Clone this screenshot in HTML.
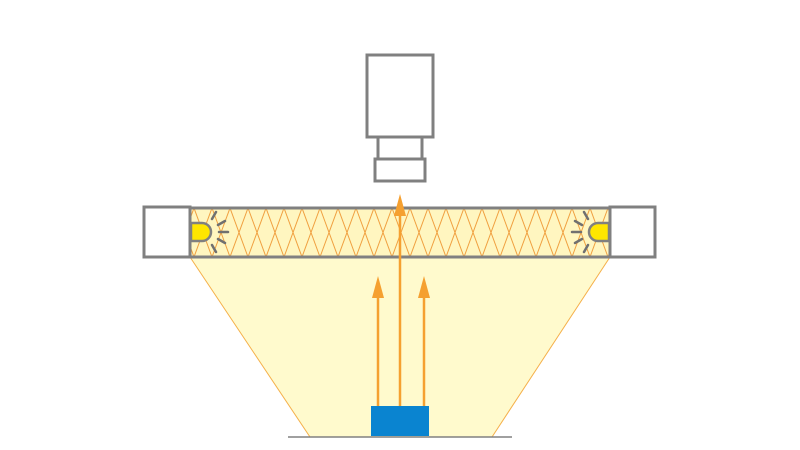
<!DOCTYPE html>
<html><head><meta charset="utf-8"><style>html,body{margin:0;padding:0;background:#fff}svg{display:block}</style></head>
<body>
<svg width="800" height="450" viewBox="0 0 800 450" xmlns="http://www.w3.org/2000/svg">
<defs>
<pattern id="zz" x="194" y="208" width="36" height="49" patternUnits="userSpaceOnUse">
<path d="M0 0L18 49L36 0M0 49L18 0L36 49" stroke="#f0a040" stroke-width="1" fill="none"/>
</pattern>
</defs>
<polygon points="190,257 610,257 492,437 310,437" fill="#fffacd" stroke="#f5b04a" stroke-width="1"/>
<rect x="190" y="208" width="420" height="49" fill="#fff6c0"/>
<rect x="190" y="208" width="420" height="49" fill="url(#zz)"/>
<line x1="190" y1="208" x2="610" y2="208" stroke="#808080" stroke-width="3"/>
<line x1="190" y1="257" x2="610" y2="257" stroke="#808080" stroke-width="3"/>
<rect x="144" y="207" width="46" height="50" fill="#fff" stroke="#808080" stroke-width="3"/>
<rect x="610" y="207" width="45" height="50" fill="#fff" stroke="#808080" stroke-width="3"/>
<path d="M191 223H202A9 9 0 0 1 202 241H191Z" fill="#ffe600" stroke="#808080" stroke-width="2.5"/>
<path d="M609 223H598A9 9 0 0 0 598 241H609Z" fill="#ffe600" stroke="#808080" stroke-width="2.5"/>
<g stroke="#707070" stroke-width="2.5" stroke-linecap="round">
<line x1="212" y1="219" x2="216" y2="212"/><line x1="218" y1="225" x2="225" y2="221"/><line x1="219" y1="232" x2="228" y2="232"/><line x1="218" y1="239" x2="225" y2="243"/><line x1="212" y1="245" x2="216" y2="252"/>
<line x1="588" y1="219" x2="584" y2="212"/><line x1="582" y1="225" x2="575" y2="221"/><line x1="581" y1="232" x2="572" y2="232"/><line x1="582" y1="239" x2="575" y2="243"/><line x1="588" y1="245" x2="584" y2="252"/>
</g>
<rect x="367" y="55" width="66" height="82" fill="#fff" stroke="#808080" stroke-width="3"/>
<rect x="378" y="137" width="44" height="22" fill="#fff" stroke="#808080" stroke-width="3"/>
<rect x="375" y="159" width="50" height="22" fill="#fff" stroke="#808080" stroke-width="3"/>
<line x1="288" y1="437" x2="512" y2="437" stroke="#808080" stroke-width="1.5"/>
<rect x="371" y="406" width="58" height="30" fill="#0a84d0"/>
<g stroke="#f5a030" stroke-width="2.5">
<line x1="378" y1="406" x2="378" y2="292"/><line x1="400" y1="406" x2="400" y2="210"/><line x1="424" y1="406" x2="424" y2="292"/>
</g>
<g fill="#f5a030">
<polygon points="372,298 378,276 384,298"/><polygon points="394,216 400,194 406,216"/><polygon points="418,298 424,276 430,298"/>
</g>
</svg>
</body></html>
